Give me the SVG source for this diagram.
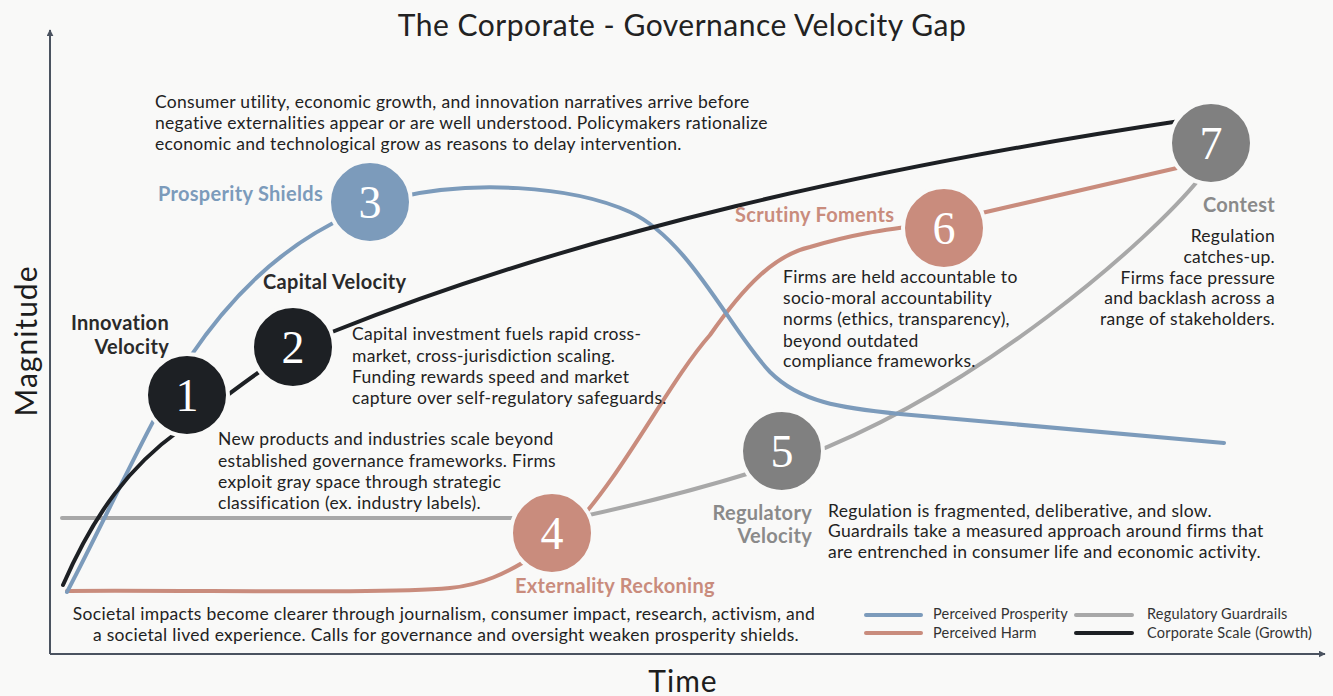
<svg xmlns="http://www.w3.org/2000/svg" width="1333" height="696" viewBox="0 0 1333 696">
  <defs>
    <marker id="axis-head" viewBox="0 0 10 10" refX="9" refY="5" markerWidth="7" markerHeight="7" orient="auto-start-reverse" markerUnits="userSpaceOnUse">
      <path d="M0,0 L10,5 L0,10 z" fill="#4b5360"/>
    </marker>
    <style>
      .bg { fill: #f9f9f8; }
      .axis { stroke: #4b5360; stroke-width: 2; fill: none; }
      .curve { fill: none; stroke-width: 4; stroke-linecap: round; }
      .prosperity { stroke: #7c9bbb; }
      .harm { stroke: #c98c7d; }
      .guard { stroke: #a8a8a8; }
      .scale { stroke: #1d2024; }
      .node { stroke: #f9f9f8; stroke-width: 4; }
      .n-dark { fill: #1d2024; }
      .n-blue { fill: #7c9bbb; }
      .n-salmon { fill: #c98c7d; }
      .n-gray { fill: #808080; }
      .num { font-family: "Liberation Serif", "DejaVu Serif", serif; font-size: 46px; fill: #ffffff; text-anchor: middle; }
      .body { font-family: Lato, "Noto Sans", sans-serif; font-size: 17.5px; letter-spacing: 0.3px; fill: #222222; }
      .label { font-family: Lato, "Noto Sans", sans-serif; font-size: 20px; letter-spacing: 0.3px; font-weight: bold; }
      .l-dark { fill: #2a2a2a; }
      .l-blue { fill: #7c9bbb; }
      .l-salmon { fill: #c98c7d; }
      .l-gray { fill: #8a8a8a; }
      .legend { font-family: Lato, "Noto Sans", sans-serif; font-size: 14.5px; letter-spacing: 0.2px; fill: #333333; }
      .title { font-family: Lato, "Noto Sans", sans-serif; font-size: 30px; letter-spacing: 0.5px; fill: #222222; text-anchor: middle; }
      .axis-label { font-family: Lato, "Noto Sans", sans-serif; font-size: 30px; letter-spacing: 1px; fill: #1d1d1d; text-anchor: middle; }
      .end { text-anchor: end; }
      .mid { text-anchor: middle; }
    </style>
  </defs>

  <rect class="bg" x="0" y="0" width="1333" height="696"/>

  <!-- title and axes -->
  <text class="title" x="682" y="36">The Corporate - Governance Velocity Gap</text>
  <g id="axes">
    <line class="axis" x1="50" y1="654" x2="50" y2="30" marker-end="url(#axis-head)"/>
    <line class="axis" x1="50" y1="654" x2="1325" y2="654" marker-end="url(#axis-head)"/>
    <text class="axis-label" transform="translate(37,341) rotate(-90)">Magnitude</text>
    <text class="axis-label" x="683" y="692">Time</text>
  </g>

  <!-- curves -->
  <g id="connectors">
    <!-- Regulatory Guardrails -->
    <path class="curve guard" d="M62,518 L530,518"/>
    <path class="curve guard" d="M575,518 Q670,498 760,470"/>
    <path class="curve guard" d="M800,458 C980,390 1150,240 1200,178 L1215,160"/>
    <!-- Perceived Harm -->
    <path class="curve harm" d="M67,591 C200,590 380,594 450,588 C480,585 505,575 540,552"/>
    <path class="curve harm" d="M570,530 C620,480 670,380 710,335 C745,285 775,255 810,247 C850,235 880,230 930,224"/>
    <path class="curve harm" d="M960,218 L1190,165"/>
    <!-- Perceived Prosperity -->
    <path class="curve prosperity" d="M67,592 C110,510 150,420 190,357 C225,305 275,248 350,215"/>
    <path class="curve prosperity" d="M395,198 C470,180 570,185 630,212 C690,240 730,330 770,372 C800,402 840,408 900,414 L1224,443"/>
    <!-- Corporate Scale -->
    <path class="curve scale" d="M63,585 C95,512 130,466 180,430 C215,405 240,385 262,370 C285,355 310,342 332,332 C582,232 875,167 1180,121"/>
  </g>

  <!-- stage 1 -->
  <g id="node-1">
    <circle class="node n-dark" cx="187" cy="395" r="41"/>
    <text class="num" x="187" y="411">1</text>
    <text class="label l-dark end" x="169" y="330">Innovation</text>
    <text class="label l-dark end" x="169" y="354">Velocity</text>
    <text class="body" x="218" y="445">New products and industries scale beyond</text>
    <text class="body" x="218" y="467">established governance frameworks. Firms</text>
    <text class="body" x="218" y="488">exploit gray space through strategic</text>
    <text class="body" x="218" y="509">classification (ex. industry labels).</text>
  </g>

  <!-- stage 2 -->
  <g id="node-2">
    <circle class="node n-dark" cx="293" cy="347" r="41"/>
    <text class="num" x="293" y="363">2</text>
    <text class="label l-dark" x="263" y="289">Capital Velocity</text>
    <text class="body" x="352" y="340">Capital investment fuels rapid cross-</text>
    <text class="body" x="352" y="362">market, cross-jurisdiction scaling.</text>
    <text class="body" x="352" y="383">Funding rewards speed and market</text>
    <text class="body" x="352" y="404">capture over self-regulatory safeguards.</text>
  </g>

  <!-- stage 3 -->
  <g id="node-3">
    <circle class="node n-blue" cx="370" cy="202" r="41"/>
    <text class="num" x="370" y="218">3</text>
    <text class="label l-blue" x="158" y="201">Prosperity Shields</text>
    <text class="body" x="155" y="108">Consumer utility, economic growth, and innovation narratives arrive before</text>
    <text class="body" x="155" y="129">negative externalities appear or are well understood. Policymakers rationalize</text>
    <text class="body" x="155" y="150">economic and technological grow as reasons to delay intervention.</text>
  </g>

  <!-- stage 4 -->
  <g id="node-4">
    <circle class="node n-salmon" cx="552" cy="533" r="41"/>
    <text class="num" x="552" y="549">4</text>
    <text class="label l-salmon" x="515" y="593">Externality Reckoning</text>
    <text class="body mid" x="444" y="620">Societal impacts become clearer through journalism, consumer impact, research, activism, and</text>
    <text class="body mid" x="446" y="641">a societal lived experience. Calls for governance and oversight weaken prosperity shields.</text>
  </g>

  <!-- stage 5 -->
  <g id="node-5">
    <circle class="node n-gray" cx="782" cy="451" r="41"/>
    <text class="num" x="782" y="467">5</text>
    <text class="label l-gray end" x="812" y="520">Regulatory</text>
    <text class="label l-gray end" x="812" y="543">Velocity</text>
    <text class="body" x="828" y="517">Regulation is fragmented, deliberative, and slow.</text>
    <text class="body" x="828" y="537">Guardrails take a measured approach around firms that</text>
    <text class="body" x="828" y="558">are entrenched in consumer life and economic activity.</text>
  </g>

  <!-- stage 6 -->
  <g id="node-6">
    <circle class="node n-salmon" cx="944" cy="228" r="41"/>
    <text class="num" x="944" y="244">6</text>
    <text class="label l-salmon" x="735" y="222">Scrutiny Foments</text>
    <text class="body" x="783" y="283">Firms are held accountable to</text>
    <text class="body" x="783" y="304">socio-moral accountability</text>
    <text class="body" x="783" y="325">norms (ethics, transparency),</text>
    <text class="body" x="783" y="347">beyond outdated</text>
    <text class="body" x="783" y="367">compliance frameworks.</text>
  </g>

  <!-- stage 7 -->
  <g id="node-7">
    <circle class="node n-gray" cx="1211" cy="143" r="41"/>
    <text class="num" x="1211" y="159">7</text>
    <text class="label l-gray end" x="1275" y="212">Contest</text>
    <text class="body end" x="1275" y="242">Regulation</text>
    <text class="body end" x="1275" y="263">catches-up.</text>
    <text class="body end" x="1275" y="284">Firms face pressure</text>
    <text class="body end" x="1275" y="304">and backlash across a</text>
    <text class="body end" x="1275" y="325">range of stakeholders.</text>
  </g>

  <!-- legend -->
  <g id="legend">
    <line class="curve prosperity" x1="866" y1="615" x2="921" y2="615" stroke-linecap="butt"/>
    <line class="curve harm" x1="866" y1="633" x2="921" y2="633" stroke-linecap="butt"/>
    <line class="curve guard" x1="1076" y1="615" x2="1132" y2="615" stroke-linecap="butt"/>
    <line class="curve scale" x1="1076" y1="633" x2="1132" y2="633" stroke-linecap="butt"/>
    <text class="legend" x="933" y="619">Perceived Prosperity</text>
    <text class="legend" x="933" y="638">Perceived Harm</text>
    <text class="legend" x="1147" y="619">Regulatory Guardrails</text>
    <text class="legend" x="1147" y="638">Corporate Scale (Growth)</text>
  </g>
</svg>
